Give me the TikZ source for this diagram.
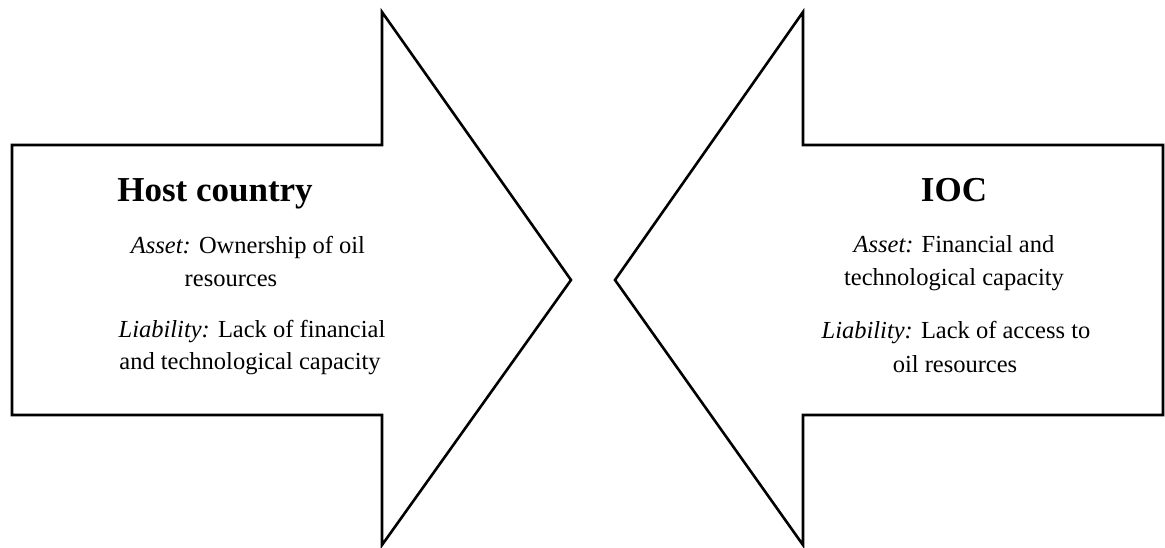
\documentclass[tikz,border=0pt]{standalone}
\usepackage{fontspec}
\setmainfont{Liberation Serif}
\begin{document}
\begin{tikzpicture}[x=1pt,y=1pt,
  arrowshape/.style={draw=black, line width=2.6pt, line join=miter, fill=white},
  titletext/.style={font=\fontsize{35}{40}\selectfont\bfseries, anchor=base, inner sep=0pt},
  bodytext/.style={font=\fontsize{24.5}{30}\selectfont, anchor=base, inner sep=0pt}]
\useasboundingbox (0,0) rectangle (1165,547);
% left arrow (host country)
\draw[arrowshape] (12,402) -- (382,402) -- (382,535) -- (571,267) -- (382,2) -- (382,132) -- (12,132) -- cycle;
% right arrow (IOC)
\draw[arrowshape] (1163,402) -- (803,402) -- (803,535) -- (615,267) -- (803,2) -- (803,132) -- (1163,132) -- cycle;
% left texts
\node[titletext] (hc) at (215,345) {Host country};
\node[bodytext] (la1) at (248,293) {\textit{Asset:} Ownership of oil};
\node[bodytext] (la2) at (231,260) {resources};
\node[bodytext] (ll1) at (252,210) {\textit{Liability:} Lack of financial};
\node[bodytext] (ll2) at (250,178) {and technological capacity};
% right texts
\node[titletext] (ioc) at (954,345) {IOC};
\node[bodytext] (ra1) at (954,294) {\textit{Asset:} Financial and};
\node[bodytext] (ra2) at (954,261) {technological capacity};
\node[bodytext] (rl1) at (956,208) {\textit{Liability:} Lack of access to};
\node[bodytext] (rl2) at (955,175) {oil resources};
\end{tikzpicture}
\end{document}
